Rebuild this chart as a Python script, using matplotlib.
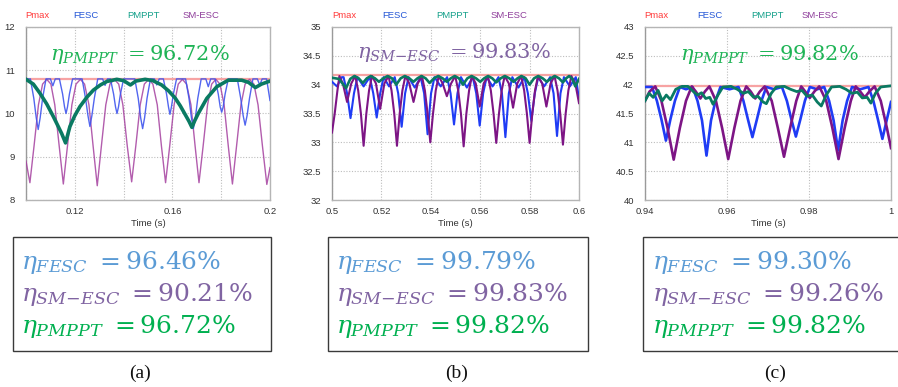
import matplotlib
matplotlib.use("Agg")
import matplotlib.pyplot as plt
from matplotlib.patches import Rectangle

plt.rcParams['mathtext.fontset'] = 'dejavuserif'
plt.rcParams['font.family'] = ['Liberation Sans', 'DejaVu Sans']

# ---------------- data ----------------
pmax_a = 10.80
pmax_b = 34.16
pmax_c = 41.98

# panel (a)
a_t_sm = [0.1000, 0.1016, 0.1033, 0.1051, 0.1068, 0.1085, 0.1102, 0.1118, 0.1136, 0.1153,
          0.1170, 0.1188, 0.1205, 0.1223, 0.1240, 0.1258, 0.1275, 0.1292, 0.1309, 0.1327,
          0.1344, 0.1362, 0.1380, 0.1397, 0.1415, 0.1433, 0.1450, 0.1468, 0.1485, 0.1503,
          0.1520, 0.1538, 0.1555, 0.1572, 0.1589, 0.1607, 0.1624, 0.1641, 0.1658, 0.1676,
          0.1693, 0.1709, 0.1726, 0.1744, 0.1761, 0.1778, 0.1795, 0.1812, 0.1829, 0.1846,
          0.1863, 0.1881, 0.1898, 0.1916, 0.1934, 0.1951, 0.1969, 0.1987, 0.2000]
a_sm = [8.90, 8.40, 9.25, 10.20, 10.68, 10.79, 10.68, 10.20, 9.25, 8.37,
        9.25, 10.20, 10.68, 10.79, 10.68, 10.20, 9.25, 8.33, 9.25, 10.20,
        10.68, 10.79, 10.68, 10.20, 9.25, 8.42, 9.25, 10.20, 10.68, 10.79,
        10.68, 10.20, 9.25, 8.40, 9.25, 10.20, 10.68, 10.79, 10.68, 10.20,
        9.25, 8.40, 9.25, 10.20, 10.68, 10.79, 10.68, 10.20, 9.25, 8.37,
        9.25, 10.20, 10.68, 10.79, 10.68, 10.20, 9.25, 8.36, 8.75]

a_t_fesc = [0.1000, 0.1018, 0.1032, 0.1042, 0.1050, 0.1058, 0.1068, 0.1082, 0.1100, 0.1110,
            0.1120, 0.1137, 0.1150, 0.1158, 0.1164, 0.1170, 0.1178, 0.1191, 0.1230, 0.1244,
            0.1254, 0.1262, 0.1270, 0.1280, 0.1294, 0.1314, 0.1324, 0.1334, 0.1346, 0.1359,
            0.1367, 0.1373, 0.1379, 0.1387, 0.1400, 0.1446, 0.1460, 0.1470, 0.1478, 0.1486,
            0.1496, 0.1510, 0.1526, 0.1536, 0.1546, 0.1563, 0.1576, 0.1584, 0.1590, 0.1596,
            0.1604, 0.1617, 0.1654, 0.1668, 0.1678, 0.1686, 0.1694, 0.1704, 0.1718, 0.1737,
            0.1747, 0.1757, 0.1775, 0.1788, 0.1796, 0.1802, 0.1808, 0.1816, 0.1829, 0.1866,
            0.1880, 0.1890, 0.1898, 0.1906, 0.1916, 0.1930, 0.1948, 0.1958, 0.1968, 0.1986,
            0.2000]
a_fesc = [10.80, 10.80, 10.35, 9.90, 9.63, 9.90, 10.35, 10.80, 10.80, 10.64,
          10.80, 10.80, 10.45, 10.15, 10.00, 10.15, 10.45, 10.80, 10.80, 10.35,
          9.95, 9.70, 9.95, 10.35, 10.80, 10.80, 10.65, 10.80, 10.80, 10.45,
          10.15, 10.00, 10.15, 10.45, 10.80, 10.80, 10.35, 9.90, 9.65, 9.90,
          10.35, 10.80, 10.80, 10.66, 10.80, 10.80, 10.45, 10.15, 9.98, 10.15,
          10.45, 10.80, 10.80, 10.35, 9.90, 9.65, 9.90, 10.35, 10.80, 10.80,
          10.62, 10.80, 10.80, 10.45, 10.15, 10.03, 10.15, 10.45, 10.80, 10.80,
          10.35, 9.95, 9.73, 9.95, 10.35, 10.80, 10.80, 10.66, 10.80, 10.80,
          10.30]

a_t_pm = [0.1000, 0.1030, 0.1057, 0.1085, 0.1112, 0.1146, 0.1162, 0.1180, 0.1200, 0.1221,
          0.1250, 0.1276, 0.1305, 0.1331, 0.1372, 0.1400, 0.1428, 0.1450, 0.1488, 0.1520,
          0.1556, 0.1585, 0.1611, 0.1632, 0.1652, 0.1668, 0.1680, 0.1692, 0.1706, 0.1741,
          0.1782, 0.1829, 0.1884, 0.1912, 0.1940, 0.1965, 0.2000]
a_pm = [10.79, 10.68, 10.47, 10.22, 9.93, 9.54, 9.32, 9.70, 9.95, 10.16,
        10.38, 10.54, 10.66, 10.74, 10.79, 10.76, 10.66, 10.75, 10.79, 10.76,
        10.66, 10.52, 10.36, 10.18, 9.98, 9.82, 9.68, 9.84, 10.00, 10.35,
        10.62, 10.77, 10.77, 10.72, 10.60, 10.68, 10.75]

# panel (b)
b_t_sm = [0.5000, 0.5011, 0.5022, 0.5030, 0.5044, 0.5061, 0.5078, 0.5094, 0.5106, 0.5117,
          0.5128, 0.5139, 0.5150, 0.5162, 0.5178, 0.5195, 0.5212, 0.5229, 0.5241, 0.5252,
          0.5263, 0.5274, 0.5285, 0.5297, 0.5313, 0.5330, 0.5347, 0.5364, 0.5376, 0.5387,
          0.5398, 0.5409, 0.5420, 0.5432, 0.5448, 0.5465, 0.5482, 0.5499, 0.5511, 0.5522,
          0.5533, 0.5544, 0.5555, 0.5566, 0.5582, 0.5598, 0.5614, 0.5631, 0.5643, 0.5654,
          0.5665, 0.5676, 0.5687, 0.5699, 0.5716, 0.5733, 0.5750, 0.5766, 0.5778, 0.5789,
          0.5800, 0.5811, 0.5822, 0.5834, 0.5851, 0.5868, 0.5885, 0.5901, 0.5913, 0.5924,
          0.5935, 0.5946, 0.5957, 0.5969, 0.5985, 0.6000]
b_sm = [33.17, 33.50, 33.90, 34.15, 34.02, 33.70, 34.02, 34.15, 33.90, 33.50,
        32.94, 33.50, 33.90, 34.15, 34.02, 33.58, 34.02, 34.15, 33.90, 33.50,
        32.94, 33.50, 33.90, 34.15, 34.02, 33.70, 34.02, 34.15, 33.90, 33.50,
        33.00, 33.50, 33.90, 34.15, 34.02, 33.80, 34.02, 34.15, 33.90, 33.50,
        32.93, 33.50, 33.90, 34.15, 34.02, 33.62, 34.02, 34.15, 33.90, 33.50,
        32.99, 33.50, 33.90, 34.15, 34.02, 33.60, 34.02, 34.15, 33.90, 33.50,
        32.99, 33.50, 33.90, 34.15, 34.02, 33.62, 34.02, 34.15, 33.90, 33.50,
        32.96, 33.50, 33.90, 34.15, 34.02, 33.68]

b_t_fesc = [0.5000, 0.5020, 0.5040, 0.5047, 0.5061, 0.5075, 0.5089, 0.5103, 0.5128, 0.5153,
            0.5167, 0.5181, 0.5195, 0.5209, 0.5231, 0.5254, 0.5268, 0.5282, 0.5296, 0.5310,
            0.5335, 0.5359, 0.5373, 0.5387, 0.5401, 0.5415, 0.5440, 0.5466, 0.5480, 0.5494,
            0.5508, 0.5522, 0.5546, 0.5570, 0.5584, 0.5598, 0.5612, 0.5626, 0.5650, 0.5674,
            0.5688, 0.5702, 0.5716, 0.5730, 0.5755, 0.5779, 0.5793, 0.5807, 0.5821, 0.5835,
            0.5859, 0.5883, 0.5897, 0.5911, 0.5925, 0.5939, 0.5963, 0.5987, 0.6000]
b_fesc = [34.05, 33.97, 34.13, 34.13, 33.85, 33.42, 33.85, 34.13, 33.97, 34.13,
          33.85, 33.43, 33.85, 34.13, 33.97, 34.13, 33.85, 33.27, 33.85, 34.13,
          33.95, 34.13, 33.85, 33.14, 33.85, 34.13, 33.97, 34.13, 33.85, 33.31,
          33.85, 34.13, 33.95, 34.13, 33.85, 33.29, 33.85, 34.13, 33.97, 34.13,
          33.85, 33.09, 33.85, 34.13, 33.95, 34.13, 33.85, 33.37, 33.85, 34.13,
          33.97, 34.13, 33.85, 33.11, 33.85, 34.13, 33.97, 34.13, 33.75]

b_t_pm = [0.5000, 0.5028, 0.5057, 0.5074, 0.5091, 0.5108, 0.5125, 0.5141, 0.5157, 0.5174,
          0.5190, 0.5208, 0.5225, 0.5243, 0.5260, 0.5278, 0.5295, 0.5313, 0.5330, 0.5346,
          0.5362, 0.5379, 0.5395, 0.5413, 0.5430, 0.5448, 0.5465, 0.5481, 0.5497, 0.5514,
          0.5530, 0.5548, 0.5565, 0.5583, 0.5600, 0.5616, 0.5632, 0.5649, 0.5665, 0.5683,
          0.5700, 0.5718, 0.5735, 0.5751, 0.5767, 0.5784, 0.5800, 0.5818, 0.5835, 0.5853,
          0.5870, 0.5886, 0.5902, 0.5919, 0.5935, 0.5948, 0.5960, 0.5973, 0.5985, 0.6000]
b_pm = [34.12, 34.10, 33.94, 34.10, 34.15, 34.11, 34.03, 34.11, 34.15, 34.11,
        34.05, 34.11, 34.15, 34.11, 34.00, 34.11, 34.15, 34.11, 34.05, 34.11,
        34.15, 34.11, 34.03, 34.11, 34.15, 34.11, 34.05, 34.11, 34.15, 34.11,
        34.00, 34.11, 34.15, 34.11, 34.05, 34.11, 34.15, 34.11, 34.04, 34.11,
        34.15, 34.11, 34.05, 34.11, 34.15, 34.11, 34.00, 34.11, 34.15, 34.11,
        34.05, 34.11, 34.15, 34.11, 34.04, 34.11, 34.15, 34.10, 33.97, 34.10]

# panel (c)
c_t_fesc = [0.9400, 0.9417, 0.9429, 0.9440, 0.9451, 0.9462, 0.9473, 0.9485, 0.9500, 0.9516,
            0.9528, 0.9539, 0.9550, 0.9561, 0.9572, 0.9584, 0.9606, 0.9628, 0.9640, 0.9651,
            0.9662, 0.9673, 0.9684, 0.9696, 0.9715, 0.9734, 0.9746, 0.9757, 0.9768, 0.9779,
            0.9790, 0.9802, 0.9820, 0.9837, 0.9849, 0.9860, 0.9871, 0.9882, 0.9893, 0.9905,
            0.9925, 0.9945, 0.9957, 0.9968, 0.9979, 0.9990, 1.0000]
c_fesc = [41.96, 41.96, 41.72, 41.40, 41.03, 41.40, 41.72, 41.96, 41.92, 41.96,
          41.72, 41.38, 40.77, 41.38, 41.72, 41.96, 41.92, 41.96, 41.72, 41.40,
          41.09, 41.40, 41.72, 41.96, 41.92, 41.96, 41.72, 41.40, 41.10, 41.40,
          41.72, 41.96, 41.92, 41.96, 41.72, 41.38, 40.86, 41.38, 41.72, 41.96,
          41.92, 41.96, 41.72, 41.40, 41.06, 41.40, 41.70]

c_t_sm = [0.9400, 0.9411, 0.9425, 0.9440, 0.9455, 0.9470, 0.9485, 0.9500, 0.9514, 0.9524,
          0.9535, 0.9546, 0.9557, 0.9573, 0.9588, 0.9603, 0.9618, 0.9633, 0.9647, 0.9658,
          0.9669, 0.9680, 0.9692, 0.9709, 0.9724, 0.9739, 0.9754, 0.9769, 0.9781, 0.9791,
          0.9802, 0.9813, 0.9825, 0.9842, 0.9857, 0.9872, 0.9887, 0.9902, 0.9914, 0.9925,
          0.9936, 0.9947, 0.9960, 0.9975, 0.9990, 1.0000]
c_sm = [41.72, 41.88, 41.97, 41.72, 41.25, 40.70, 41.25, 41.72, 41.97, 41.88,
        41.76, 41.88, 41.97, 41.72, 41.25, 40.71, 41.25, 41.72, 41.97, 41.88,
        41.76, 41.88, 41.97, 41.72, 41.25, 40.75, 41.25, 41.72, 41.97, 41.88,
        41.77, 41.88, 41.97, 41.72, 41.25, 40.71, 41.25, 41.72, 41.97, 41.88,
        41.78, 41.88, 41.97, 41.72, 41.25, 40.90]

c_t_pm = [0.9400, 0.9410, 0.9420, 0.9432, 0.9442, 0.9452, 0.9462, 0.9475, 0.9490, 0.9505,
          0.9518, 0.9528, 0.9538, 0.9548, 0.9558, 0.9566, 0.9578, 0.9590, 0.9610, 0.9625,
          0.9640, 0.9652, 0.9665, 0.9675, 0.9688, 0.9696, 0.9708, 0.9720, 0.9740, 0.9755,
          0.9770, 0.9783, 0.9795, 0.9808, 0.9820, 0.9830, 0.9842, 0.9855, 0.9875, 0.9890,
          0.9905, 0.9918, 0.9930, 0.9942, 0.9951, 0.9962, 0.9975, 1.0000]
c_pm = [41.72, 41.85, 41.78, 41.90, 41.72, 41.82, 41.74, 41.92, 41.97, 41.97,
        41.88, 41.82, 41.86, 41.76, 41.78, 41.66, 41.82, 41.96, 41.97, 41.92,
        41.85, 41.88, 41.78, 41.80, 41.70, 41.67, 41.85, 41.96, 41.97, 41.92,
        41.88, 41.90, 41.80, 41.82, 41.70, 41.63, 41.82, 41.96, 41.97, 41.92,
        41.85, 41.87, 41.77, 41.78, 41.68, 41.85, 41.96, 41.98]

series_names = ["Pmax", "FESC", "PMPPT", "SM-ESC"]
panel_letters = ["(a)", "(b)", "(c)"]
eff_fesc = ["96.46%", "99.79%", "99.30%"]
eff_sm = ["90.21%", "99.83%", "99.26%"]
eff_pm = ["96.72%", "99.82%", "99.82%"]
inner_label = [("PMPPT", "96.72%"), ("SM-ESC", "99.83%"), ("PMPPT", "99.82%")]

# ---------------- styling ----------------
W, H = 898, 387
fig = plt.figure(figsize=(W / 100, H / 100), dpi=100)


def fx(x):
    return x / W


def fy(y):
    return 1 - y / H


def eta(sub, val):
    return r'$\eta_{%s}\ = %s$' % (sub.replace('-', '{-}'), val.replace('%', r'\%'))


C_PMAX = '#f7a3a3'
C_FESC = '#1f3cf5'
C_PM = '#0a7a62'
C_SM = '#7d1585'
T_PMAX = '#ff3b3b'
T_FESC = '#2456d6'
T_PM = '#14a08a'
T_SM = '#8e3d9a'
TXT_BLUE = '#5b9bd5'
TXT_PURPLE = '#8064a2'
TXT_GREEN = '#00b050'

panels = [
    dict(box=(26, 27, 270, 200), xlim=(0.1, 0.2), ylim=(8, 12), yticks=[8, 9, 10, 11, 12],
         xgrid=[0.1, 0.12, 0.14, 0.16, 0.18, 0.2], xlab={0.12: '0.12', 0.16: '0.16', 0.2: '0.2'},
         pmax=pmax_a, fesc=(a_t_fesc, a_fesc), sm=(a_t_sm, a_sm), pm=(a_t_pm, a_pm),
         legx=[37, 86, 143, 201], lw=1.0, lw_pm=2.6, light=True,
         inner=(50, 55, '#1fb456')),
    dict(box=(332, 27, 579, 200), xlim=(0.5, 0.6), ylim=(32, 35),
         yticks=[32, 32.5, 33, 33.5, 34, 34.5, 35],
         xgrid=[0.5, 0.52, 0.54, 0.56, 0.58, 0.6],
         xlab={0.5: '0.5', 0.52: '0.52', 0.54: '0.54', 0.56: '0.56', 0.58: '0.58', 0.6: '0.6'},
         pmax=pmax_b, fesc=(b_t_fesc, b_fesc), sm=(b_t_sm, b_sm), pm=(b_t_pm, b_pm),
         legx=[344, 395, 452, 509], lw=1.5, lw_pm=1.9, light=False,
         inner=(357, 52, TXT_PURPLE)),
    dict(box=(645, 27, 891, 200), xlim=(0.94, 1.0), ylim=(40, 43),
         yticks=[40, 40.5, 41, 41.5, 42, 42.5, 43],
         xgrid=[0.94, 0.96, 0.98, 1.0],
         xlab={0.94: '0.94', 0.96: '0.96', 0.98: '0.98', 1.0: '1'},
         pmax=pmax_c, fesc=(c_t_fesc, c_fesc), sm=(c_t_sm, c_sm), pm=(c_t_pm, c_pm),
         legx=[656, 710, 768, 820], lw=1.9, lw_pm=2.0, light=False,
         inner=(680, 55, '#1fb456')),
]

for i, p in enumerate(panels):
    l, t, r, b = p['box']
    ax = fig.add_axes([fx(l), fy(b), (r - l) / W, (b - t) / H])
    ax.set_xlim(*p['xlim'])
    ax.set_ylim(*p['ylim'])
    ax.set_yticks(p['yticks'])
    ax.set_yticklabels([('%g' % v) for v in p['yticks']])
    ax.set_xticks(p['xgrid'])
    ax.set_xticklabels([p['xlab'].get(v, '') for v in p['xgrid']])
    ax.tick_params(length=0, labelsize=6.8, colors='#333333', pad=5)
    ax.tick_params(axis='y', pad=8)
    ax.grid(True, linestyle=(0, (1, 1.5)), color='#bdbdbd', linewidth=0.8)
    ax.set_axisbelow(True)
    for s in ax.spines.values():
        s.set_color('#b5b5b5')
        s.set_linewidth(1.0)
    ax.spines['left'].set_color('#9a9a9a')
    ax.set_xlabel('Time (s)', fontsize=6.8, color='#333333', labelpad=2)

    ax.axhline(p['pmax'], color=C_PMAX, lw=1.6, zorder=2)
    if p['light']:
        ax.plot(*p['sm'], color='#a5409f', lw=p['lw'], alpha=0.85, zorder=3)
        ax.plot(*p['fesc'], color='#3f55ee', lw=p['lw'], alpha=0.9, zorder=4)
    else:
        ax.plot(*p['fesc'], color=C_FESC, lw=p['lw'], zorder=3)
        ax.plot(*p['sm'], color=C_SM, lw=p['lw'], zorder=4)
    ax.plot(*p['pm'], color=C_PM, lw=p['lw_pm'], zorder=5)

    # legend-like labels
    for name, cx, col in zip(series_names, p['legx'], [T_PMAX, T_FESC, T_PM, T_SM]):
        fig.text(fx(cx), fy(16), name, color=col, fontsize=6.8, ha='center', va='center')

    # inner annotation
    ix, iy, icol = p['inner']
    nm, val = inner_label[i]
    fig.text(fx(ix), fy(iy), eta(nm, val), color=icol, fontsize=15, ha='left', va='center')

# boxes with efficiencies
boxes = [(12.5, 237, 271, 351), (328, 237, 588, 351), (643, 237, 905, 351)]
text_x = [21, 336, 652]
label_x = [140, 457, 775]
for i in range(3):
    l, t, r, b = boxes[i]
    rect = Rectangle((fx(l), fy(b)), (r - l) / W, (b - t) / H, transform=fig.transFigure,
                     fill=False, ec='#3a3a3a', lw=1.0, clip_on=False)
    fig.add_artist(rect)
    lines = [(eta('FESC', eff_fesc[i]), TXT_BLUE, 263),
             (eta('SM-ESC', eff_sm[i]), TXT_PURPLE, 295),
             (eta('PMPPT', eff_pm[i]), TXT_GREEN, 327)]
    for s, col, yy in lines:
        fig.text(fx(text_x[i]), fy(yy), s, color=col, fontsize=18, ha='left', va='center')
    fig.text(fx(label_x[i]), fy(373), panel_letters[i], fontsize=14, ha='center', va='center',
             family=['Liberation Serif', 'DejaVu Serif'], color='#111111')

fig.savefig('out.png', dpi=100)
